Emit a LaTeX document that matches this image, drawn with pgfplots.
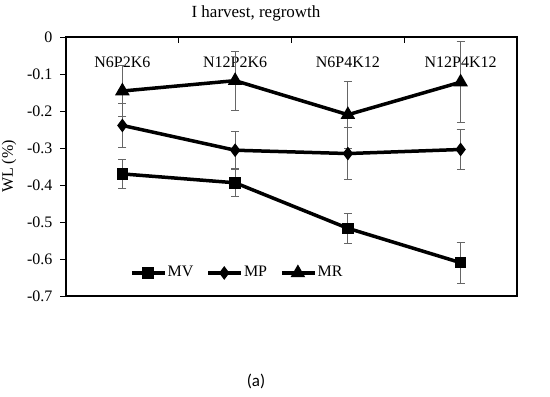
\documentclass[border=0pt]{standalone}
\usepackage{fontspec}
\setmainfont{Liberation Serif}
\newfontfamily\capfont{Carlito}
\usepackage{pgfplots}
\pgfplotsset{compat=1.18}
\begin{document}
\fontsize{16bp}{19bp}\selectfont%
\begin{tikzpicture}[x=1bp,y=1bp]
\useasboundingbox (-66,-100) rectangle (484,296);
\begin{axis}[at={(0,0)}, anchor=south west, scale only axis,
  width=451bp, height=259bp,
  xmin=0.5, xmax=4.5, ymin=-0.7, ymax=0,
  axis line style={line width=1.3bp},
  tick style={line width=1bp, black},
  tick align=inside,
  xtick pos=upper, ytick pos=left,
  xticklabel pos=upper,
  xtick={1,2,3,4},
  xticklabels={N6P2K6,N12P2K6,N6P4K12,N12P4K12},
  major x tick style={draw=none},
  xticklabel style={anchor=base, yshift=-30bp},
  extra x ticks={1.5,2.5,3.5},
  extra x tick labels={},
  extra x tick style={major x tick style={draw=black}, major tick length=6bp},
  ytick={-0.7,-0.6,...,0.01},
  major tick length=6bp,
  every major y tick/.append style={xshift=-6bp},
  yticklabel style={xshift=-8bp},
  /pgf/number format/assume math mode=true,
  /pgf/number format/fixed,
  ylabel={WL (\%)},
  legend columns=-1,
  legend style={at={(0.142,0.089)}, anchor=west, draw=none, fill=none,
    inner sep=0pt, /tikz/every even column/.append style={column sep=12bp},
    nodes={inner xsep=1bp}},
  legend image code/.code={\draw[#1, mark repeat=2, mark phase=2] plot coordinates {(0bp,0bp) (16bp,0bp) (33bp,0bp)};},
  every axis plot/.append style={black, line width=3.5bp,
    error bars/y dir=both, error bars/y explicit,
    error bars/error bar style={line width=0.8bp, gray!80!black},
    error bars/error mark options={rotate=90, mark size=4bp, line width=0.8bp, gray!80!black}},
]
\addplot[mark=square*, mark size=4bp, mark options={solid}] coordinates {
  (1,-0.370) +- (0,0.040)
  (2,-0.394) +- (0,0.037)
  (3,-0.517) +- (0,0.040)
  (4,-0.610) +- (0,0.055)
};
\addlegendentry{MV}
\addplot[mark=diamond*, mark size=4bp, mark options={solid}] coordinates {
  (1,-0.239) +- (0,0.060)
  (2,-0.306) +- (0,0.050)
  (3,-0.315) +- (0,0.070)
  (4,-0.304) +- (0,0.053)
};
\addlegendentry{MP}
\addplot[mark=triangle*, mark size=5bp, mark options={solid}] coordinates {
  (1,-0.146) +- (0,0.069)
  (2,-0.118) +- (0,0.080)
  (3,-0.210) +- (0,0.090)
  (4,-0.122) +- (0,0.110)
};
\addlegendentry{MR}
\end{axis}
\node[anchor=base, font=\fontsize{17bp}{20bp}\selectfont] at (190,279) {I harvest, regrowth};
\node[anchor=base, font=\capfont\fontsize{17bp}{20bp}\selectfont] at (190,-90) {(a)};
\end{tikzpicture}
\end{document}
